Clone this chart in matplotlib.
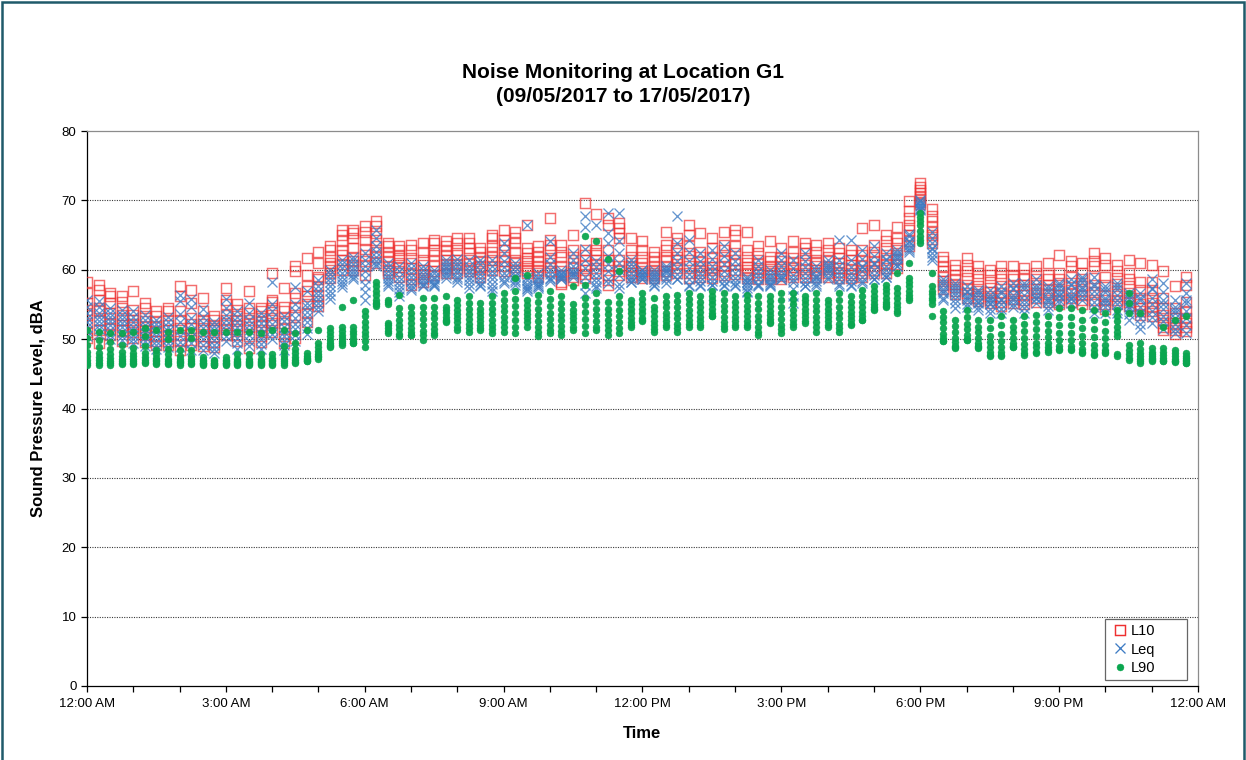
import matplotlib
matplotlib.use("Agg")
import matplotlib.pyplot as plt
from matplotlib.lines import Line2D
from matplotlib.patches import Rectangle
from matplotlib.ticker import FixedLocator
import numpy as np

plt.rcParams["font.family"] = ["Liberation Sans", "DejaVu Sans"]

# 15-minute time slots over one day, in hours after midnight
slot_hours = np.arange(96) * 0.25

x_tick_hours = [0, 3, 6, 9, 12, 15, 18, 21, 24]
x_tick_labels = ["12:00 AM", "3:00 AM", "6:00 AM", "9:00 AM", "12:00 PM",
                 "3:00 PM", "6:00 PM", "9:00 PM", "12:00 AM"]

# one row per time slot, one value per monitoring day (dBA)
l10 = [
    [58.3, 56.6, 55.2, 54.2, 53.5, 52.3, 51.0, 50.2],
    [57.8, 57.1, 55.7, 54.5, 54.0, 52.8, 51.3, 49.4],
    [56.6, 56.2, 55.2, 53.8, 53.0, 52.2, 51.4, 50.6],
    [56.2, 55.4, 54.5, 53.5, 52.8, 52.0, 51.3, 49.8],
    [57.0, 54.2, 53.5, 52.8, 52.2, 51.8, 51.0, 50.2],
    [55.2, 54.5, 53.3, 52.6, 51.8, 51.3, 50.6, 49.6],
    [54.0, 53.3, 52.5, 51.8, 51.2, 50.4, 49.8, 49.2],
    [54.5, 54.0, 52.8, 52.0, 51.3, 50.4, 49.8, 49.2],
    [57.6, 56.2, 54.0, 52.8, 51.6, 50.6, 49.8, 48.5],
    [57.1, 55.2, 53.0, 52.2, 51.6, 50.8, 49.9, 49.2],
    [55.9, 54.0, 52.8, 52.2, 51.6, 50.4, 49.8, 49.0],
    [53.3, 52.8, 52.1, 51.6, 51.3, 50.4, 49.6, 48.8],
    [57.4, 55.7, 55.0, 53.5, 52.8, 52.3, 51.5, 50.6],
    [55.0, 54.2, 53.3, 52.6, 52.1, 51.4, 50.6, 49.8],
    [56.9, 54.5, 53.8, 52.8, 52.2, 51.8, 50.5, 48.7],
    [54.5, 54.0, 53.3, 52.5, 52.0, 51.3, 50.4, 49.6],
    [59.5, 55.7, 55.4, 54.5, 53.5, 52.8, 52.3, 51.0],
    [57.4, 54.7, 54.0, 53.0, 52.3, 51.4, 50.4, 49.4],
    [60.5, 59.8, 56.6, 55.9, 54.7, 53.5, 51.8, 50.1],
    [61.7, 59.3, 57.6, 56.9, 56.2, 55.0, 53.8, 52.5],
    [62.6, 61.0, 59.0, 58.6, 57.6, 56.4, 55.5, 54.8],
    [63.4, 62.9, 61.9, 61.0, 60.5, 60.0, 59.5, 58.8],
    [65.8, 65.0, 64.1, 62.9, 62.2, 61.4, 60.8, 60.0],
    [65.8, 65.3, 64.6, 63.2, 61.9, 61.2, 60.7, 60.0],
    [66.3, 65.5, 64.3, 63.0, 62.2, 61.2, 60.5, 59.3],
    [67.0, 66.3, 65.3, 64.3, 63.4, 62.6, 61.9, 61.0],
    [63.8, 63.4, 62.6, 61.9, 61.2, 60.6, 60.0, 59.5],
    [63.4, 62.9, 62.2, 61.7, 61.0, 60.4, 59.8, 59.0],
    [63.6, 62.9, 61.7, 61.0, 60.2, 59.4, 58.6, 57.8],
    [63.8, 62.6, 61.4, 60.7, 60.0, 59.4, 58.8, 58.2],
    [64.3, 63.8, 62.9, 62.2, 61.2, 60.5, 59.8, 59.2],
    [64.1, 63.4, 62.9, 62.2, 61.4, 60.8, 60.2, 59.6],
    [64.6, 63.8, 62.9, 62.2, 61.4, 60.8, 60.2, 59.6],
    [64.6, 63.8, 63.1, 62.4, 61.4, 60.8, 60.2, 59.8],
    [63.1, 62.6, 61.9, 61.2, 60.6, 60.1, 59.6, 59.0],
    [65.0, 64.6, 63.4, 62.6, 61.9, 61.4, 60.6, 60.0],
    [65.8, 64.3, 63.6, 62.9, 61.9, 61.2, 60.5, 59.8],
    [65.5, 64.6, 63.8, 62.6, 61.4, 61.0, 60.4, 59.8],
    [66.5, 63.1, 62.4, 61.7, 61.2, 60.6, 60.0, 59.5],
    [63.4, 62.6, 61.9, 61.2, 60.5, 60.0, 59.5, 59.0],
    [67.5, 64.3, 63.6, 62.9, 61.7, 61.0, 60.4, 59.8],
    [63.6, 62.6, 61.9, 60.5, 59.8, 59.2, 58.3, 58.0],
    [65.0, 62.9, 61.9, 61.0, 60.2, 59.6, 59.0, 58.5],
    [69.6, 62.9, 62.2, 61.4, 60.5, 60.0, 59.4, 58.8],
    [68.0, 63.8, 62.9, 62.2, 61.4, 60.8, 60.2, 59.6],
    [67.5, 66.5, 62.9, 61.4, 60.5, 59.3, 58.5, 57.8],
    [66.7, 66.0, 65.3, 64.6, 61.4, 60.5, 59.8, 59.2],
    [64.6, 62.9, 61.9, 61.0, 60.5, 60.0, 59.5, 59.0],
    [64.1, 62.9, 61.9, 61.0, 60.2, 59.8, 59.3, 58.8],
    [62.6, 61.9, 61.2, 60.5, 60.0, 59.6, 59.2, 58.8],
    [65.5, 63.6, 62.9, 61.9, 61.2, 60.5, 59.8, 59.2],
    [64.6, 63.8, 62.9, 61.9, 61.4, 60.8, 60.2, 59.6],
    [66.5, 65.0, 63.4, 62.4, 61.4, 60.6, 59.5, 58.8],
    [65.3, 62.6, 61.9, 61.2, 60.6, 60.0, 59.5, 59.0],
    [64.6, 63.1, 61.9, 61.0, 60.4, 59.9, 59.4, 58.8],
    [65.5, 63.6, 62.9, 61.9, 61.2, 60.5, 59.8, 59.2],
    [65.8, 65.0, 63.4, 62.4, 61.4, 60.8, 60.0, 59.4],
    [65.5, 62.9, 61.9, 61.0, 60.4, 59.9, 59.4, 58.8],
    [63.4, 62.4, 61.4, 60.8, 60.2, 59.7, 59.2, 58.7],
    [64.1, 61.9, 61.2, 60.6, 60.1, 59.6, 59.2, 58.7],
    [63.1, 61.9, 61.2, 60.6, 60.1, 59.6, 59.1, 58.6],
    [64.1, 62.6, 61.7, 61.0, 60.4, 59.9, 59.4, 58.9],
    [63.8, 63.1, 62.4, 61.4, 60.7, 60.1, 59.6, 59.0],
    [63.6, 62.6, 61.4, 61.0, 60.5, 60.0, 59.5, 59.0],
    [63.8, 62.9, 61.9, 61.2, 60.6, 60.1, 59.6, 59.0],
    [63.1, 62.4, 61.7, 61.0, 60.2, 59.7, 59.2, 58.8],
    [62.9, 62.2, 61.4, 60.7, 60.1, 59.6, 59.2, 58.8],
    [66.0, 62.9, 62.2, 61.2, 60.6, 60.0, 59.5, 59.0],
    [66.5, 63.6, 62.6, 61.9, 61.2, 60.6, 60.0, 59.5],
    [65.0, 64.1, 63.1, 62.2, 61.4, 60.8, 60.2, 59.6],
    [66.2, 64.6, 63.8, 62.9, 62.2, 61.5, 60.8, 60.2],
    [69.9, 68.4, 67.5, 66.5, 65.8, 65.0, 64.2, 63.4],
    [72.5, 72.0, 71.5, 71.0, 70.6, 70.2, 69.8, 69.5],
    [68.7, 67.7, 67.0, 66.2, 65.5, 65.0, 64.4, 63.8],
    [61.9, 61.2, 60.5, 59.8, 59.0, 58.4, 57.8, 57.2],
    [60.7, 60.0, 59.3, 58.6, 58.0, 57.5, 57.0, 56.5],
    [61.7, 60.7, 59.8, 58.8, 57.8, 57.2, 56.6, 56.0],
    [60.5, 59.5, 58.6, 57.6, 57.0, 56.5, 56.0, 55.5],
    [60.0, 59.3, 58.3, 57.4, 56.8, 56.2, 55.7, 55.2],
    [60.5, 59.5, 58.6, 57.6, 56.6, 56.0, 55.4, 54.8],
    [60.5, 59.3, 58.6, 57.6, 57.0, 56.4, 55.8, 55.2],
    [60.2, 59.3, 58.6, 57.8, 56.9, 56.3, 55.7, 55.0],
    [60.5, 59.5, 58.6, 57.8, 57.2, 56.6, 56.0, 55.4],
    [61.0, 59.3, 58.6, 57.8, 57.1, 56.5, 55.9, 55.3],
    [62.2, 59.5, 58.6, 57.8, 56.9, 56.3, 55.7, 55.1],
    [61.2, 60.5, 59.0, 58.1, 57.1, 56.5, 55.9, 55.3],
    [61.0, 59.5, 58.6, 57.6, 56.9, 56.3, 55.7, 55.1],
    [62.4, 61.2, 60.5, 58.8, 57.8, 56.8, 55.7, 55.0],
    [61.7, 60.7, 59.0, 57.8, 56.2, 55.6, 55.0, 54.4],
    [60.7, 59.8, 58.8, 58.0, 56.9, 56.2, 55.6, 55.0],
    [61.4, 59.5, 58.6, 57.6, 56.6, 56.0, 55.4, 54.8],
    [61.0, 58.3, 57.1, 55.9, 55.0, 54.5, 54.0, 53.5],
    [60.7, 58.3, 57.1, 55.9, 55.2, 54.6, 54.0, 53.4],
    [59.8, 55.9, 54.5, 53.5, 52.8, 52.3, 51.8, 51.3],
    [57.6, 54.5, 53.8, 53.0, 52.3, 51.8, 51.3, 50.8],
    [59.0, 57.8, 55.4, 54.0, 53.0, 52.3, 51.8, 51.2],
]

leq = [
    [55.7, 54.6, 53.8, 53.0, 52.4, 51.8, 51.2, 50.4],
    [55.5, 54.6, 53.8, 53.2, 52.6, 52.0, 51.4, 50.8],
    [54.5, 53.8, 53.2, 52.6, 52.0, 51.3, 50.6, 50.0],
    [54.2, 53.5, 52.9, 52.3, 51.7, 51.1, 50.5, 49.9],
    [54.0, 53.2, 52.5, 51.8, 51.2, 50.6, 50.0, 49.4],
    [53.5, 52.8, 52.1, 51.5, 50.9, 50.3, 49.7, 49.0],
    [52.8, 52.2, 51.6, 51.0, 50.4, 49.8, 49.2, 48.6],
    [53.2, 52.5, 51.8, 51.2, 50.6, 50.0, 49.4, 48.8],
    [56.4, 55.5, 53.6, 52.4, 51.3, 50.4, 49.6, 48.8],
    [55.8, 54.6, 53.0, 52.2, 51.2, 50.3, 49.4, 48.5],
    [54.4, 53.2, 52.3, 51.6, 50.8, 50.0, 49.2, 48.4],
    [52.5, 51.9, 51.3, 50.6, 49.9, 49.2, 48.6, 48.0],
    [55.8, 54.5, 53.5, 52.7, 52.0, 51.3, 50.5, 49.8],
    [54.0, 53.2, 52.5, 51.8, 51.0, 50.2, 49.4, 48.6],
    [55.2, 53.8, 52.8, 52.0, 51.3, 50.6, 49.8, 49.0],
    [53.8, 53.0, 52.3, 51.6, 50.8, 50.0, 49.3, 48.6],
    [58.2, 55.0, 54.0, 53.0, 52.2, 51.5, 50.8, 50.0],
    [53.3, 52.6, 51.8, 51.0, 50.4, 49.8, 49.2, 48.5],
    [57.5, 55.0, 54.0, 53.0, 52.2, 51.4, 50.6, 49.8],
    [57.0, 55.2, 54.6, 53.9, 53.2, 52.5, 51.6, 50.8],
    [58.5, 57.6, 57.0, 56.4, 55.8, 55.2, 54.6, 54.0],
    [60.0, 59.4, 58.8, 58.2, 57.6, 57.0, 56.4, 55.8],
    [61.4, 60.8, 60.2, 59.6, 59.0, 58.4, 58.0, 57.5],
    [61.9, 61.4, 60.8, 60.3, 59.8, 59.4, 59.0, 58.6],
    [62.4, 61.4, 60.6, 59.8, 58.8, 57.8, 56.8, 55.7],
    [65.8, 64.6, 63.4, 62.6, 61.9, 61.2, 60.8, 60.5],
    [61.0, 60.4, 59.8, 59.3, 58.8, 58.4, 58.0, 57.6],
    [60.5, 59.8, 59.0, 58.4, 57.8, 57.2, 56.8, 56.2],
    [61.0, 60.2, 59.6, 59.0, 58.4, 57.8, 57.3, 57.1],
    [60.5, 59.9, 59.4, 58.9, 58.5, 58.1, 57.8, 57.6],
    [60.0, 59.5, 59.0, 58.6, 58.3, 58.0, 57.8, 57.6],
    [61.4, 61.0, 60.6, 60.2, 59.8, 59.5, 59.2, 58.8],
    [61.6, 61.0, 60.5, 60.0, 59.5, 59.0, 58.6, 58.2],
    [61.4, 60.6, 60.0, 59.5, 59.0, 58.5, 58.0, 57.4],
    [61.4, 60.8, 60.0, 59.4, 58.8, 58.2, 57.8, 57.6],
    [61.4, 60.6, 59.8, 59.2, 58.6, 58.0, 57.4, 56.9],
    [63.8, 62.4, 61.2, 60.4, 59.6, 59.0, 58.4, 58.1],
    [61.0, 60.4, 59.8, 59.3, 58.9, 58.5, 58.2, 57.8],
    [66.5, 59.0, 58.5, 58.0, 57.7, 57.4, 57.2, 56.9],
    [59.5, 59.0, 58.6, 58.2, 57.9, 57.6, 57.4, 57.6],
    [64.1, 61.8, 60.8, 60.0, 59.4, 58.8, 58.4, 58.6],
    [60.0, 59.6, 59.2, 58.9, 58.6, 58.6, 59.4, 59.0],
    [62.4, 61.4, 60.6, 60.0, 59.6, 59.2, 59.0, 59.5],
    [67.7, 66.2, 63.0, 61.4, 60.2, 59.0, 57.8, 56.6],
    [66.5, 61.2, 60.4, 59.6, 58.8, 58.2, 57.6, 57.4],
    [68.2, 65.3, 63.8, 62.0, 60.8, 59.8, 58.6, 58.1],
    [68.2, 64.1, 62.4, 61.0, 60.0, 59.2, 58.0, 57.4],
    [61.4, 60.8, 60.2, 59.6, 59.0, 58.6, 58.3, 58.3],
    [60.0, 59.6, 59.2, 58.9, 58.6, 58.6, 59.3, 59.9],
    [60.0, 59.5, 59.0, 58.6, 58.2, 57.8, 57.6, 59.3],
    [60.5, 60.0, 59.5, 59.0, 58.6, 58.1, 59.8, 60.2],
    [67.7, 63.8, 62.4, 61.2, 60.2, 59.4, 58.6, 58.6],
    [64.3, 62.6, 61.2, 60.2, 59.4, 58.6, 57.8, 57.6],
    [62.4, 61.2, 60.4, 59.6, 59.0, 58.4, 57.8, 57.6],
    [62.9, 61.6, 60.6, 59.8, 59.0, 58.4, 57.8, 57.8],
    [63.4, 62.0, 60.8, 59.8, 59.0, 58.4, 57.8, 57.6],
    [62.4, 61.2, 60.4, 59.6, 58.8, 58.2, 57.8, 57.6],
    [59.0, 58.6, 58.2, 57.8, 57.4, 57.0, 56.8, 58.3],
    [61.4, 60.6, 59.8, 59.2, 58.6, 58.0, 57.6, 57.8],
    [59.0, 58.6, 58.3, 58.0, 57.8, 57.6, 59.4, 60.0],
    [62.4, 61.4, 60.6, 59.8, 59.2, 58.6, 58.6, 59.0],
    [61.4, 60.2, 59.2, 58.2, 57.2, 56.2, 55.2, 58.6],
    [62.4, 61.2, 60.4, 59.6, 58.8, 58.2, 57.6, 57.6],
    [60.5, 59.9, 59.3, 58.8, 58.4, 58.0, 57.6, 59.0],
    [61.4, 60.8, 60.2, 59.6, 59.0, 58.6, 60.0, 60.5],
    [64.3, 61.4, 60.6, 59.8, 59.2, 58.6, 58.0, 57.6],
    [64.3, 61.4, 60.4, 59.6, 59.0, 58.4, 57.8, 57.6],
    [62.9, 61.6, 60.6, 59.8, 59.0, 58.4, 58.1, 60.4],
    [63.4, 62.0, 60.8, 60.0, 59.2, 58.6, 58.6, 61.0],
    [62.4, 61.4, 60.6, 60.0, 59.4, 59.0, 59.0, 61.6],
    [62.9, 62.2, 61.6, 61.0, 60.6, 60.5, 61.8, 62.4],
    [64.8, 64.2, 63.6, 63.2, 62.9, 64.0, 65.2, 62.6],
    [70.1, 69.6, 69.2, 68.9, 68.7, 68.6, 69.9, 69.4],
    [65.5, 64.6, 63.8, 63.0, 62.4, 61.8, 61.4, 63.2],
    [58.6, 57.8, 57.2, 56.6, 56.0, 55.7, 58.2, 57.0],
    [58.1, 57.2, 56.4, 55.8, 55.2, 54.5, 57.6, 56.8],
    [57.6, 56.8, 56.2, 55.6, 55.1, 54.7, 57.0, 56.0],
    [57.1, 56.4, 55.8, 55.2, 54.6, 54.2, 56.8, 55.4],
    [57.1, 56.4, 55.6, 55.0, 54.4, 53.8, 56.0, 55.2],
    [57.6, 56.6, 55.8, 55.0, 54.4, 53.8, 57.0, 55.6],
    [58.1, 57.2, 56.4, 55.7, 55.1, 54.7, 57.4, 56.0],
    [58.1, 57.2, 56.4, 55.6, 55.0, 54.5, 53.8, 57.6],
    [58.6, 57.8, 57.0, 56.4, 55.8, 55.2, 57.4, 56.0],
    [57.6, 56.8, 56.0, 55.4, 54.8, 54.2, 57.2, 55.6],
    [58.1, 57.4, 56.8, 56.2, 55.6, 55.2, 57.8, 56.4],
    [58.6, 57.8, 57.0, 56.4, 55.8, 55.2, 58.0, 56.0],
    [59.0, 58.2, 57.5, 56.8, 56.2, 55.7, 58.6, 57.2],
    [59.0, 58.0, 57.0, 56.2, 55.4, 54.6, 53.8, 57.6],
    [57.6, 56.8, 56.0, 55.2, 54.6, 53.8, 57.2, 55.6],
    [58.1, 57.2, 56.4, 55.6, 55.0, 54.2, 53.8, 57.6],
    [56.6, 55.8, 55.0, 54.3, 53.6, 52.8, 56.2, 54.6],
    [56.6, 55.6, 54.6, 53.8, 53.0, 52.2, 51.4, 56.0],
    [58.6, 57.2, 56.0, 55.0, 54.0, 53.2, 52.3, 57.4],
    [58.1, 56.8, 55.6, 54.4, 53.4, 52.6, 51.4, 55.0],
    [55.7, 54.6, 53.8, 53.0, 52.2, 51.5, 50.9, 54.2],
    [58.1, 56.6, 55.2, 54.0, 53.0, 52.0, 50.9, 55.6],
]

l90 = [
    [51.3, 50.2, 49.2, 48.2, 47.6, 47.0, 46.6, 46.3],
    [51.1, 49.9, 48.9, 48.0, 47.4, 47.0, 46.6, 46.3],
    [50.9, 49.6, 48.6, 47.8, 47.3, 46.9, 46.6, 46.3],
    [50.9, 49.2, 48.2, 47.6, 47.2, 46.9, 46.6, 46.4],
    [51.0, 48.7, 48.0, 47.5, 47.1, 46.8, 46.6, 46.4],
    [51.6, 50.4, 49.0, 48.0, 47.4, 47.0, 46.7, 46.5],
    [51.3, 48.4, 47.8, 47.3, 47.0, 46.8, 46.6, 46.4],
    [51.1, 50.0, 48.6, 47.8, 47.2, 46.9, 46.6, 46.4],
    [51.3, 48.4, 47.6, 47.2, 46.9, 46.7, 46.5, 46.3],
    [51.3, 50.2, 48.4, 47.6, 47.2, 46.9, 46.6, 46.4],
    [51.1, 47.4, 47.0, 46.8, 46.6, 46.5, 46.4, 46.3],
    [51.1, 47.0, 46.8, 46.6, 46.5, 46.4, 46.3, 46.2],
    [51.1, 47.4, 47.0, 46.8, 46.6, 46.5, 46.4, 46.3],
    [51.1, 47.8, 47.2, 46.9, 46.7, 46.5, 46.4, 46.3],
    [51.1, 47.8, 47.2, 46.9, 46.7, 46.5, 46.4, 46.3],
    [50.9, 47.8, 47.2, 46.9, 46.7, 46.5, 46.4, 46.3],
    [51.3, 47.8, 47.3, 47.0, 46.8, 46.6, 46.4, 46.3],
    [51.3, 49.0, 48.2, 47.6, 47.2, 46.8, 46.5, 46.3],
    [50.9, 49.4, 48.6, 48.0, 47.4, 47.0, 46.7, 46.5],
    [51.3, 48.0, 47.6, 47.3, 47.1, 47.0, 46.9, 46.8],
    [51.3, 49.4, 48.8, 48.3, 47.9, 47.5, 47.4, 47.2],
    [51.6, 51.0, 50.4, 49.9, 49.5, 49.2, 49.0, 48.9],
    [54.7, 51.8, 51.2, 50.6, 50.1, 49.7, 49.4, 49.2],
    [55.7, 51.8, 51.2, 50.7, 50.2, 49.8, 49.5, 49.4],
    [54.0, 53.3, 52.5, 51.8, 51.1, 50.4, 49.7, 48.9],
    [58.3, 57.6, 56.9, 56.3, 55.7, 55.2, 55.0, 54.8],
    [55.7, 55.3, 55.0, 52.3, 52.0, 51.6, 51.2, 50.9],
    [56.4, 54.5, 53.6, 52.8, 52.0, 51.4, 50.8, 50.4],
    [54.7, 53.8, 53.0, 52.3, 51.6, 51.0, 50.6, 50.6],
    [55.9, 54.7, 53.8, 52.9, 52.0, 51.2, 50.6, 49.9],
    [55.9, 54.7, 53.8, 53.0, 52.2, 51.4, 50.9, 50.6],
    [56.2, 54.7, 54.2, 53.7, 53.2, 52.8, 52.6, 52.4],
    [55.7, 54.9, 54.2, 53.6, 53.0, 52.4, 51.8, 51.3],
    [56.2, 55.2, 54.4, 53.6, 52.9, 52.2, 51.6, 51.1],
    [55.2, 54.4, 53.8, 53.2, 52.6, 52.0, 51.6, 51.3],
    [56.2, 55.2, 54.4, 53.6, 52.8, 52.0, 51.4, 50.9],
    [56.6, 55.6, 54.8, 54.0, 53.2, 52.4, 51.8, 51.1],
    [58.8, 56.9, 55.8, 54.8, 53.8, 52.8, 51.8, 50.9],
    [59.3, 55.7, 54.9, 54.2, 53.6, 53.0, 52.5, 51.8],
    [56.4, 55.3, 54.4, 53.5, 52.6, 51.8, 51.0, 50.4],
    [56.9, 55.8, 54.8, 53.8, 52.9, 52.0, 51.3, 50.9],
    [56.2, 55.2, 54.3, 53.5, 52.7, 51.9, 51.2, 50.6],
    [57.7, 55.0, 54.2, 53.6, 53.0, 52.4, 51.8, 51.3],
    [64.9, 57.8, 55.9, 54.9, 53.9, 52.9, 51.9, 50.9],
    [64.2, 56.6, 55.4, 54.4, 53.5, 52.6, 51.8, 51.3],
    [61.5, 55.4, 54.4, 53.6, 52.8, 52.0, 51.3, 50.6],
    [59.8, 56.2, 55.2, 54.2, 53.3, 52.5, 51.6, 50.9],
    [55.7, 55.0, 54.3, 53.7, 53.1, 52.5, 52.0, 51.8],
    [56.6, 55.8, 55.0, 54.3, 53.7, 53.1, 52.6, 52.8],
    [55.9, 54.7, 54.0, 53.3, 52.6, 52.0, 51.5, 51.1],
    [56.2, 55.4, 54.6, 53.8, 53.2, 52.6, 52.1, 51.8],
    [56.4, 55.5, 54.6, 53.8, 53.0, 52.2, 51.6, 51.1],
    [56.6, 55.8, 55.0, 54.2, 53.5, 52.8, 52.2, 51.8],
    [56.2, 55.4, 54.6, 53.9, 53.2, 52.6, 52.1, 51.8],
    [56.9, 56.2, 55.6, 55.0, 54.4, 53.8, 53.4, 53.3],
    [56.6, 55.7, 54.8, 54.0, 53.2, 52.5, 51.9, 51.4],
    [56.2, 55.4, 54.6, 53.9, 53.2, 52.6, 52.1, 51.8],
    [56.4, 55.6, 54.8, 54.0, 53.3, 52.6, 52.1, 51.8],
    [56.2, 55.2, 54.3, 53.4, 52.6, 51.8, 51.1, 50.6],
    [56.2, 55.5, 54.8, 54.1, 53.5, 52.9, 52.5, 52.3],
    [56.6, 55.6, 54.6, 53.7, 52.9, 52.1, 51.4, 50.9],
    [56.6, 55.8, 55.0, 54.2, 53.5, 52.8, 52.2, 51.8],
    [56.2, 55.6, 55.0, 54.4, 53.8, 53.2, 52.6, 52.3],
    [56.6, 55.6, 54.8, 54.0, 53.2, 52.4, 51.8, 51.1],
    [55.7, 55.0, 54.4, 53.8, 53.2, 52.6, 52.1, 51.8],
    [56.6, 55.6, 54.6, 53.8, 53.0, 52.2, 51.6, 51.1],
    [56.2, 55.4, 54.6, 53.9, 53.3, 52.7, 52.2, 52.1],
    [57.1, 56.2, 55.4, 54.6, 53.9, 53.3, 52.8, 52.8],
    [57.6, 56.9, 56.2, 55.6, 55.0, 54.6, 54.3, 54.2],
    [57.8, 57.2, 56.6, 56.0, 55.4, 55.0, 54.8, 54.7],
    [59.5, 57.4, 56.6, 55.9, 55.2, 54.6, 54.0, 53.8],
    [61.0, 58.8, 58.2, 57.6, 57.0, 56.4, 55.9, 55.7],
    [68.2, 67.6, 67.0, 66.4, 65.6, 64.8, 64.3, 63.8],
    [59.5, 57.6, 57.0, 56.5, 56.0, 55.7, 53.3, 55.0],
    [54.0, 53.2, 52.4, 51.6, 50.8, 50.2, 49.7, 49.7],
    [52.8, 51.9, 51.0, 50.2, 49.6, 49.0, 48.8, 48.7],
    [54.2, 53.2, 52.2, 51.4, 50.6, 50.0, 49.9, 49.9],
    [52.8, 51.8, 51.0, 50.2, 49.5, 49.0, 48.8, 48.7],
    [52.8, 51.6, 50.5, 49.6, 48.8, 48.1, 47.7, 47.5],
    [53.3, 52.0, 50.8, 49.8, 48.9, 48.2, 47.7, 47.5],
    [52.8, 51.8, 51.0, 50.2, 49.5, 49.0, 48.9, 48.9],
    [53.3, 52.2, 51.2, 50.2, 49.3, 48.6, 48.0, 47.7],
    [53.5, 52.4, 51.4, 50.4, 49.5, 48.8, 48.2, 48.0],
    [53.3, 52.2, 51.2, 50.3, 49.5, 48.8, 48.4, 48.2],
    [54.5, 53.2, 52.0, 50.9, 49.9, 49.0, 48.6, 48.5],
    [54.5, 53.2, 52.0, 50.9, 49.9, 49.0, 48.6, 48.5],
    [54.2, 52.8, 51.6, 50.4, 49.4, 48.6, 48.1, 48.0],
    [54.2, 52.8, 51.5, 50.3, 49.2, 48.4, 47.9, 47.7],
    [53.8, 52.4, 51.2, 50.1, 49.1, 48.4, 48.1, 48.0],
    [54.2, 53.4, 52.6, 51.8, 51.0, 50.4, 47.8, 47.5],
    [56.6, 55.2, 53.8, 49.2, 48.4, 47.8, 47.3, 47.0],
    [53.8, 49.4, 48.6, 48.0, 47.5, 47.1, 46.8, 46.5],
    [48.7, 48.2, 47.8, 47.5, 47.2, 47.0, 46.8, 47.3],
    [51.8, 48.7, 48.2, 47.7, 47.3, 47.0, 46.8, 46.8],
    [52.8, 48.5, 48.0, 47.6, 47.2, 46.9, 46.8, 46.7],
    [53.3, 48.0, 47.6, 47.3, 47.0, 46.8, 46.6, 46.5],
]


def flatten(rows):
    xs = np.repeat(slot_hours, [len(r) for r in rows])
    ys = np.concatenate([np.asarray(r, dtype=float) for r in rows])
    return xs, ys


fig = plt.figure(figsize=(12.46, 7.6), dpi=100)
ax = fig.add_axes([0.0698, 0.0974, 0.8917, 0.7302])

red = "#ee3030"
blue = "#3f7cc4"
green = "#0aa64f"

sq_style = dict(ls="none", marker="s", ms=6.5, mfc="none", mec=red, mew=1.05)
x_style = dict(ls="none", marker="x", ms=6.5, mec=blue, mew=0.95)
dot_style = dict(ls="none", marker="o", ms=5, mfc=green, mec=green, mew=0.3)

x, y = flatten(l10)
ax.plot(x, y, alpha=0.7, zorder=3, **sq_style)
x, y = flatten(leq)
ax.plot(x, y, alpha=0.8, zorder=4, **x_style)
x, y = flatten(l90)
ax.plot(x, y, alpha=0.95, zorder=5, **dot_style)

ax.set_xlim(0, 24)
ax.set_ylim(0, 80)
ax.xaxis.set_major_locator(FixedLocator(x_tick_hours))
ax.xaxis.set_minor_locator(FixedLocator(range(25)))
ax.set_xticklabels(x_tick_labels)
ax.set_yticks(range(0, 81, 10))
ax.tick_params(axis="both", which="both", direction="out", labelsize=9.5,
               colors="black", length=4, width=0.9)
ax.tick_params(axis="x", pad=5)

for v in range(10, 80, 10):
    ax.axhline(v, color="#3a3a3a", lw=0.8, ls=(0, (1, 1.2)), zorder=1)

ax.spines["left"].set_color("black")
ax.spines["bottom"].set_color("black")
ax.spines["top"].set_color("#8c8c8c")
ax.spines["right"].set_color("#8c8c8c")
for s in ax.spines.values():
    s.set_linewidth(0.9)

ax.set_ylabel("Sound Pressure Level, dBA", fontsize=12, fontweight="bold",
              labelpad=12)
ax.set_xlabel("Time", fontsize=12, fontweight="bold", labelpad=11)

fig.text(0.5, 0.889, "Noise Monitoring at Location G1\n(09/05/2017 to 17/05/2017)",
         ha="center", va="center", fontsize=15, fontweight="bold",
         linespacing=1.3)

handles = [Line2D([], [], **sq_style), Line2D([], [], **x_style),
           Line2D([], [], **dot_style)]
leg = ax.legend(handles, ["L10", "Leq", "L90"], loc="lower left",
                bbox_to_anchor=(0.9163, 0.0108, 0.0738, 0.117), mode="expand",
                frameon=True, fancybox=False, edgecolor="#404040", fontsize=10.5,
                handlelength=1.3, handletextpad=0.1, borderpad=0.35,
                labelspacing=0.3, borderaxespad=0)
leg.get_frame().set_linewidth(0.9)

# dark outer border around the whole chart
fig.patches.append(Rectangle((0.0016, -0.01), 0.9968, 1.0074,
                             transform=fig.transFigure, fill=False,
                             edgecolor="#1f5a6a", lw=1.8))

fig.savefig("out.png", dpi=100)
